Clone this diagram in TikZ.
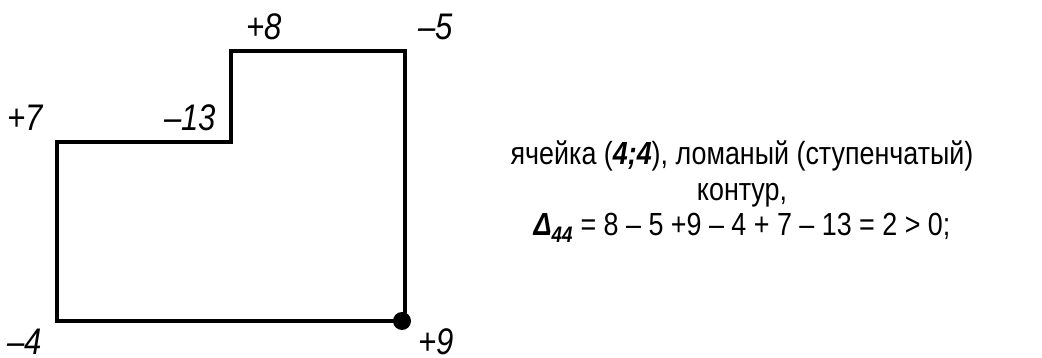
\documentclass[tikz,border=0pt]{standalone}
\usepackage{fontspec}
\setmainfont{Liberation Sans}[FakeStretch=0.84]
\usetikzlibrary{positioning,calc}
\tikzset{
 contour/.style={line width=3.2pt,line join=miter},
 corner/.style={font=\fontsize{37}{39}\selectfont\itshape,inner sep=0pt},
 note/.style={align=center,font=\fontsize{32}{35.5}\selectfont,inner sep=0pt}}

\begin{document}
\begin{tikzpicture}[x=1pt,y=-1pt]
\useasboundingbox (0,0) rectangle (1042,358);
% corners of the cell contour
\coordinate (a) at (57,142);
\coordinate (b) at (231,142);
\coordinate (c) at (231,51);
\coordinate (d) at (405,51);
\coordinate (e) at (405,321);
\coordinate (f) at (57,321);
\draw[contour] (a)--(b)--(c)--(d)--(e)--(f)--cycle;
\fill (e) ++(-3,0) circle (9) coordinate (start);
% values at the corners
\node[corner] (lc) at ($(c)+(33,-24)$) {+8};
\node[corner] (ld) at ($(d)+(31,-24)$) {–5};
\node[corner] (la) at ($(a)+(-32,-24)$) {+7};
\node[corner] (lb) at ($(b)+(-41,-24)$) {–13};
\node[corner] (lf) at ($(f)+(-32,21)$) {–4};
\node[corner] (le) at ($(e)+(31,21)$) {+9};
\node[note] (txt) at (742,192) {ячейка (\textbf{\textit{4;4}}), ломаный (ступенчатый)\\контур,\\\textbf{\textit{Δ\textsubscript{44}}} = 8 – 5 +9 – 4 + 7 – 13 = 2 > 0;};
\end{tikzpicture}
\end{document}
